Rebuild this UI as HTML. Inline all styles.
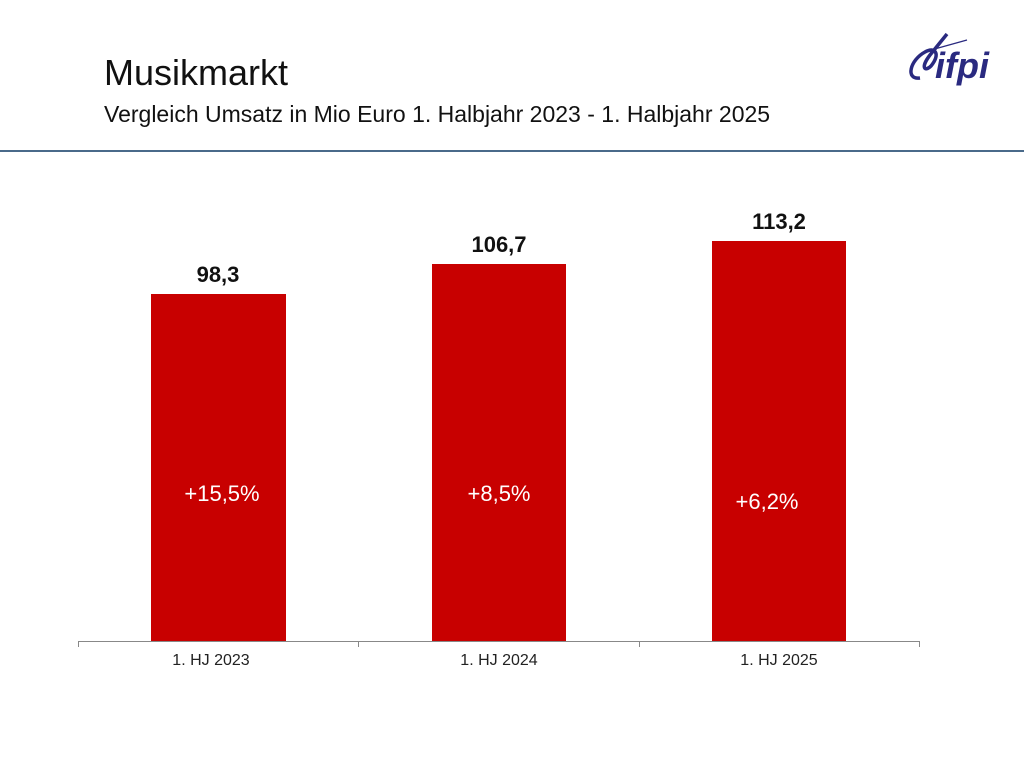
<!DOCTYPE html>
<html><head><meta charset="utf-8"><style>
body{margin:0;width:1024px;height:768px;background:#fff;position:relative;overflow:hidden;font-family:"Liberation Sans","DejaVu Sans",sans-serif;}
.abs{position:absolute;}
.bar{position:absolute;background:#c80000;}
.val{position:absolute;font-weight:bold;font-size:22px;color:#111;text-align:center;width:160px;}
.pct{position:absolute;font-size:22px;color:#fff;text-align:center;width:160px;}
.cat{position:absolute;font-size:16px;color:#222;text-align:center;width:160px;top:652px;}
</style></head><body>
<div class="abs" style="left:104px;top:52px;font-size:36px;color:#111;">Musikmarkt</div>
<div class="abs" style="left:104px;top:101px;font-size:23px;color:#111;">Vergleich Umsatz in Mio Euro 1. Halbjahr 2023 - 1. Halbjahr 2025</div>
<div class="abs" style="left:0;top:150px;width:1024px;height:2px;background:#4a6a8a;"></div>
<svg class="abs" style="left:905px;top:28px" width="110" height="60">
<path d="M15 50 C0 52 5 32 20 24 C30 18 36 26 26 38 C20 44 15 40 25 27 L42 6" fill="none" stroke="#2a2a80" stroke-width="3.5"/>
<path d="M26 22 L62 12" stroke="#2a2a80" stroke-width="1.2"/>
<text x="30" y="50" font-family="Liberation Sans" font-style="italic" font-weight="bold" font-size="36" fill="#2a2a80">ifpi</text>
</svg>
<div class="bar" style="left:151px;top:294px;width:135px;height:348px;"></div>
<div class="bar" style="left:432px;top:264px;width:134px;height:378px;"></div>
<div class="bar" style="left:712px;top:241px;width:134px;height:401px;"></div>
<div class="val" style="left:138px;top:262px;">98,3</div>
<div class="val" style="left:419px;top:232px;">106,7</div>
<div class="val" style="left:699px;top:209px;">113,2</div>
<div class="pct" style="left:142px;top:481px;">+15,5%</div>
<div class="pct" style="left:419px;top:481px;">+8,5%</div>
<div class="pct" style="left:687px;top:489px;">+6,2%</div>
<div class="abs" style="left:78px;top:641px;width:842px;height:1px;background:#888;"></div>
<div class="abs" style="left:78px;top:641px;width:1px;height:6px;background:#888;"></div>
<div class="abs" style="left:358px;top:641px;width:1px;height:6px;background:#888;"></div>
<div class="abs" style="left:639px;top:641px;width:1px;height:6px;background:#888;"></div>
<div class="abs" style="left:919px;top:641px;width:1px;height:6px;background:#888;"></div>
<div class="cat" style="left:131px;">1. HJ 2023</div>
<div class="cat" style="left:419px;">1. HJ 2024</div>
<div class="cat" style="left:699px;">1. HJ 2025</div>
</body></html>
